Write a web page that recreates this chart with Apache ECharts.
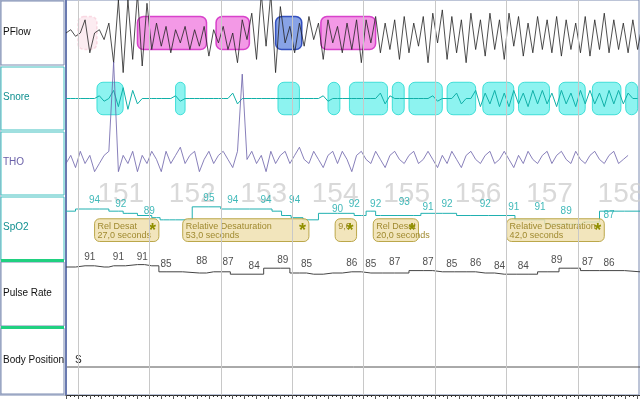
<!DOCTYPE html><html><head><meta charset="utf-8"><script src="https://cdn.jsdelivr.net/npm/echarts@6/dist/echarts.min.js"></script>
<style>html,body{margin:0;padding:0;background:#fff}#c{width:640px;height:400px}</style></head><body><div id="c"></div><script>
const rowNames=['PFlow','Snore','THO','SpO2','Pulse Rate','Body Position'];
const epochStarts=[5,35,65,95,125,155,185,215];
const epochLabels=['151','152','153','154','155','156','157','158'];
const pflow=[0,1,-1,0,4,-6,0,1,-2,3,-9,10,-12,10,-8,12,-10,9,-5,3,-4,2,-6,1,-3,2,-5,1,-4,2,-7,1,-3,2,-5,0,-9,4,-2,6,-8,12,-4,12,-12,8,-3,2,-6,3,-4,5,-2,3,-8,4,-3,2,-6,3,-5,4,-9,4,-3,5,-6,3,-5,4,-8,5,-6,3,-4,5,-9,6,-3,7,-8,5,-6,4,-9,6,-5,4,-7,6,-5,4,-8,6,-4,5,-7,3,-6,5,-5,4,-6,5,-7,4,-5,3,-6,5,-7,4,-5,6,-6,4,-5,3,-6,4,-5,3,-4];
const snore=[0,0,0,0,0,0,0,1,-1,0,3,-3,4,-4,3,-2,0,0,0,0,0,0,0,1,-1,0,0,0,0,0,0,0,0,0,0,2,-2,0,0,0,0,0,0,0,0,0,0,0,0,0,0,0,0,0,1,-1,0,0,0,0,0,0,0,0,0,0,2,-2,1,0,0,0,0,0,0,0,0,1,-1,0,0,0,2,-2,0,0,3,-3,2,-2,3,-3,2,-3,3,-2,2,-3,3,-2,3,-2,2,-3,3,-2,2,-3,3,-2,3,-2,2,-3,3,-2,3,-2,2,0,0];
const tho=[0,2,-1,3,0,2,-2,0,2,3,25,-2,2,0,3,-2,2,0,3,1,-2,3,0,2,4,0,2,3,-2,1,3,0,2,3,1,-1,3,22,1,3,0,2,-2,3,0,2,3,0,2,4,1,0,3,1,-1,2,3,0,3,1,-2,2,3,1,0,3,1,-1,2,3,1,0,2,3,0,1,3,1,-1,2,0,3,1,-1,2,3,1,0,2,3,0,1,3,1,-1,2,0,3,1,0,2,3,0,2,3,1,0,3,1,0,2,3,1,0,2,3,0,1,2];
const spo2T=[0,8,14,22,26,34,38,41,46,60,70,84,89,92,97,102,110,118,124,128,132,146,152,158,170,185,192,198,204,214,220,228,241];
const spo2V=[93,94,94,93,92,91,90,89,89,95,94,94,93,91,90,89,92,92,91,93,91,91,92,92,91,91,89,89,87,87,88,93,93];
const spo2LabT=[12,23,35,60,70,84,96,114,121,130,142,152,160,176,188,199,210,228];
const spo2LabV=[94,92,89,95,94,94,94,90,92,92,93,91,92,92,91,91,89,87];
const pulseT=[0,8,16,20,30,36,42,56,62,76,90,98,104,112,120,128,138,150,158,168,176,184,194,202,212,220,228,241];
const pulseV=[90,91,90,91,92,91,86,85,86,84,89,85,84,85,86,85,85,87,86,86,85,84,84,86,89,87,87,86];
const pulseLabT=[10,22,32,42,57,68,79,91,101,120,128,138,152,162,172,182,192,206,219,228];
const pulseLabV=[91,91,91,85,88,87,84,89,85,86,85,87,87,85,86,84,84,89,87,86];
const desatBoxes=[[12,39,'Rel Desat\n27,0 seconds'],[49,102,'Relative Desaturation\n53,0 seconds'],[113,122,'9,0'],[129,148,'Rel Desat\n20,0 seconds'],[185,226,'Relative Desaturation\n42,0 seconds']];
const flowBoxes=[[5,13,'#f7c8d8','#f0a0b8'],[30,59,'#f080e0','#d020c0'],[63,77,'#f080e0','#d020c0'],[88,99,'#6a8ce0','#1030b0'],[107,130,'#f080e0','#d020c0']];
const snoreBoxes=[[13,24],[46,50],[89,98],[110,115],[119,135],[137,142],[144,158],[160,172],[175,188],[190,203],[207,218],[221,233],[235,240]];
const rowTops=[0,66,131,196,261,327];const rowH=[66,65,65,65,66,68];
const L=66,W=574,maxT=241;
const grids=[],xA=[],yA=[],series=[];
const yr=[[-10,10],[-12,12],[-8,8],[70,100],[40,95],[0,1]];
for(let i=0;i<6;i++){grids.push({left:L,top:rowTops[i],width:W,height:rowH[i]});
 xA.push({gridIndex:i,type:'value',min:0,max:maxT,show:false});
 yA.push({gridIndex:i,type:'value',min:yr[i][0],max:yr[i][1],show:false});}
grids.push({left:L,top:0,width:W,height:395});
xA.push({gridIndex:6,type:'value',min:0,max:maxT,interval:5,axisLine:{lineStyle:{color:'#333'}},axisTick:{length:4,lineStyle:{color:'#555'}},minorTick:{show:true,splitNumber:3,length:2},axisLabel:{show:false},splitLine:{show:false}});
yA.push({gridIndex:6,type:'value',min:0,max:1,show:false});
series.push({type:'line',xAxisIndex:6,yAxisIndex:6,data:[],markLine:{silent:true,symbol:'none',label:{show:false},lineStyle:{color:'#c8c8c8',type:'solid',width:1},data:epochStarts.map(t=>({xAxis:t}))}});
function rectSeries(idx,data,fn,z){return {type:'custom',xAxisIndex:idx,yAxisIndex:idx,z:z||1,data:data.map((d,i)=>[d[0],d[1],i]),renderItem:(p,api)=>fn(api,data[api.value(2)],p)};}
series.push(rectSeries(0,flowBoxes,(api,d)=>{const a=api.coord([d[0],5]),b=api.coord([d[1],-5]);return {type:'rect',shape:{x:a[0],y:a[1],width:b[0]-a[0],height:b[1]-a[1],r:6},style:{fill:d[2],opacity:d[0]<10?0.35:0.8,stroke:d[3],lineWidth:1.5,lineDash:d[0]<10?[3,2]:null}};}));
series.push(rectSeries(1,snoreBoxes,(api,d)=>{const a=api.coord([d[0],6]),b=api.coord([d[1],-6]);return {type:'rect',shape:{x:a[0],y:a[1],width:b[0]-a[0],height:b[1]-a[1],r:6},style:{fill:'#70f0ec',opacity:0.8,stroke:'#20d8d0',lineWidth:1}};}));
series.push({type:'line',xAxisIndex:0,yAxisIndex:0,showSymbol:false,z:3,data:pflow.map((v,i)=>[i*2,v]),lineStyle:{color:'#222',width:0.8},clip:false});
series.push({type:'line',xAxisIndex:1,yAxisIndex:1,showSymbol:false,z:3,data:snore.map((v,i)=>[i*2,v]),lineStyle:{color:'#10b0a8',width:1}});
series.push({type:'line',xAxisIndex:2,yAxisIndex:2,showSymbol:false,data:tho.map((v,i)=>[i*2,v]),lineStyle:{color:'#6a60a8',width:0.8},clip:false});
series.push({type:'scatter',xAxisIndex:3,yAxisIndex:3,symbolSize:0,z:0,clip:false,data:epochLabels.map((l,i)=>[epochStarts[i]+18,101]),label:{show:true,position:'inside',formatter:p=>epochLabels[p.dataIndex],color:'#d0d0d0',fontSize:28,fontFamily:'Arial'}});
series.push({type:'line',xAxisIndex:3,yAxisIndex:3,step:'middle',showSymbol:false,data:spo2T.map((t,i)=>[t,spo2V[i]]),lineStyle:{color:'#20b0b0',width:1}});
series.push({type:'scatter',xAxisIndex:3,yAxisIndex:3,symbolSize:0,data:spo2LabT.map((t,i)=>[t,spo2LabV[i]+4]),label:{show:true,formatter:p=>spo2LabV[p.dataIndex],color:'#10a8a8',fontSize:10,fontFamily:'Arial'}});
series.push(rectSeries(3,desatBoxes,(api,d)=>{const a=api.coord([d[0],89.5]),b=api.coord([d[1],79]);const w=b[0]-a[0],h=b[1]-a[1];return {type:'group',children:[{type:'rect',shape:{x:a[0],y:a[1],width:w,height:h,r:5},style:{fill:'#f0e0b0',opacity:0.85,stroke:'#b09a30',lineWidth:1}},{type:'text',style:{x:a[0]+3,y:a[1]+3,text:d[2],fill:'#a08a30',fontSize:9,fontFamily:'Arial',lineHeight:9}},{type:'text',style:{x:b[0]-10,y:a[1]+3,text:'*',fill:'#909000',fontSize:18,fontWeight:'bold'}}]};},4));
series.push({type:'line',xAxisIndex:4,yAxisIndex:4,step:'middle',showSymbol:false,data:pulseT.map((t,i)=>[t,pulseV[i]]),lineStyle:{color:'#444',width:1},clip:false});
series.push({type:'scatter',xAxisIndex:4,yAxisIndex:4,symbolSize:0,data:pulseLabT.map((t,i)=>[t,pulseLabV[i]+7]),label:{show:true,formatter:p=>pulseLabV[p.dataIndex],color:'#222',fontSize:10,fontFamily:'Arial'},clip:false});
const gr=[{type:'rect',shape:{x:0,y:0,width:639,height:395},style:{fill:'none',stroke:'#7a8ab0',lineWidth:1}}];
const lblBorder=['#7a8ab0','#40c0c0','#40c0c0','#40c0c0','#7a8ab0','#7a8ab0'];
for(let i=0;i<6;i++){gr.push({type:'rect',shape:{x:1,y:rowTops[i]+1,width:63,height:rowH[i]-2},style:{fill:'#fff',stroke:lblBorder[i],lineWidth:1}});
 gr.push({type:'text',style:{x:3,y:rowTops[i]+rowH[i]/2-6,text:rowNames[i],fill:i==1||i==3?'#109090':(i==2?'#6a60a8':'#111'),fontSize:10,fontFamily:'Arial'}});}
gr.push({type:'rect',shape:{x:1,y:259,width:63,height:3},style:{fill:'#20d080'}});
gr.push({type:'rect',shape:{x:1,y:326,width:63,height:3},style:{fill:'#20d080'}});
gr.push({type:'rect',shape:{x:65,y:0,width:2,height:395},style:{fill:'#6a7ab0'}});
gr.push({type:'line',shape:{x1:67,y1:367,x2:640,y2:367},style:{stroke:'#555',lineWidth:1}});
gr.push({type:'text',style:{x:75,y:355,text:'S',fill:'#222',fontSize:10,fontFamily:'Arial'}});
const chart=echarts.init(document.getElementById('c'));
chart.setOption({animation:false,grid:grids,xAxis:xA,yAxis:yA,series,graphic:gr});
</script></body></html>
